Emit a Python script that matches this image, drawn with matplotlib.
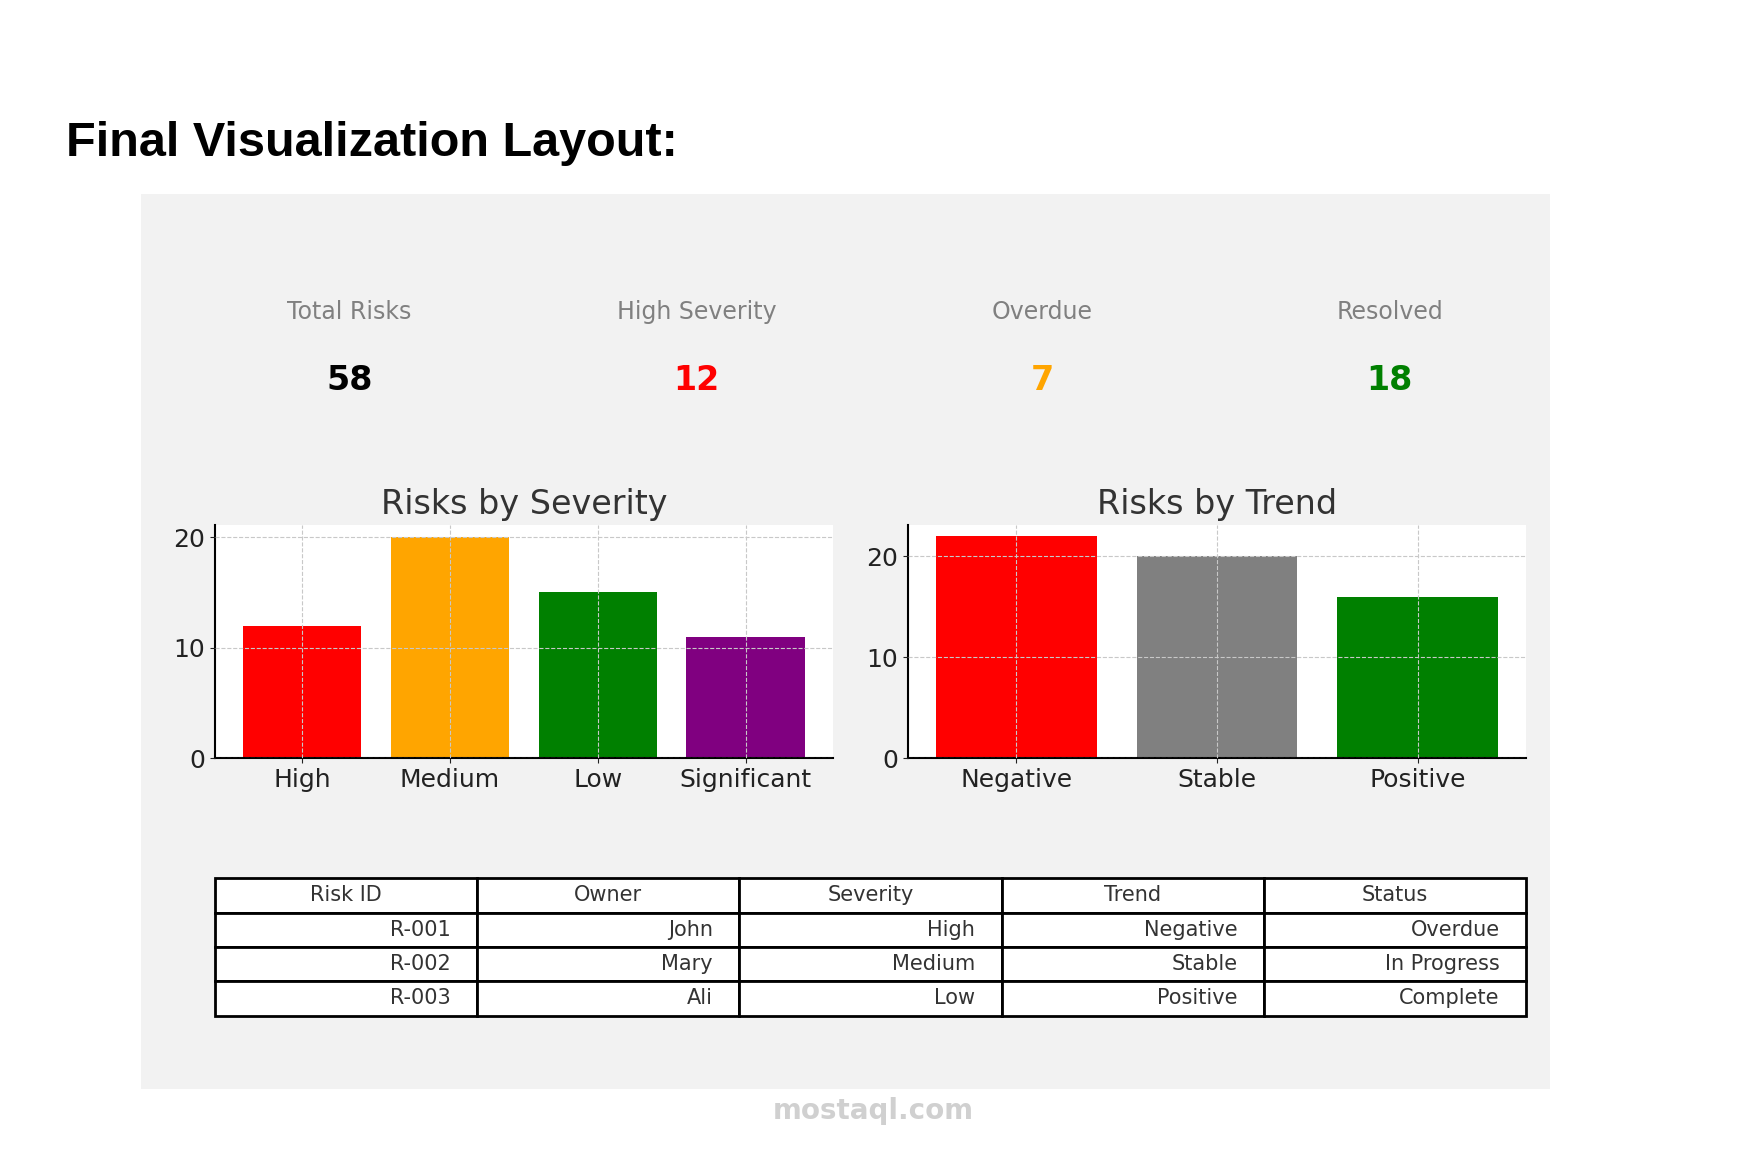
import matplotlib.pyplot as plt
from matplotlib.patches import Rectangle

# KPI cards
kpi_labels = ["Total Risks", "High Severity", "Overdue", "Resolved"]
kpi_values = [58, 12, 7, 18]
kpi_colors = ["black", "red", "orange", "green"]

# severity chart
sev_cats = ["High", "Medium", "Low", "Significant"]
sev_vals = [12, 20, 15, 11]
sev_colors = ["red", "orange", "green", "purple"]

# trend chart
trend_cats = ["Negative", "Stable", "Positive"]
trend_vals = [22, 20, 16]
trend_colors = ["red", "gray", "green"]

# table
col_labels = ["Risk ID", "Owner", "Severity", "Trend", "Status"]
rows = [["R-001", "John", "High", "Negative", "Overdue"],
        ["R-002", "Mary", "Medium", "Stable", "In Progress"],
        ["R-003", "Ali", "Low", "Positive", "Complete"]]

fig = plt.figure(figsize=(17.46, 11.54), dpi=100)
fig.patch.set_facecolor("white")
bg = fig.add_axes([0.081, 0.056, 0.807, 0.776], zorder=-5)
bg.set_facecolor("#f2f2f2")
bg.set_xticks([])
bg.set_yticks([])
for s in bg.spines.values():
    s.set_visible(False)

fig.text(0.038, 0.876, "Final Visualization Layout:", fontsize=35, fontweight="bold",
         family="Liberation Sans", va="center")

xs = [0.200, 0.399, 0.597, 0.796]
for x, lab, v, c in zip(xs, kpi_labels, kpi_values, kpi_colors):
    fig.text(x, 0.730, lab, fontsize=17, color="gray", ha="center", va="center")
    fig.text(x, 0.670, str(v), fontsize=24, color=c, fontweight="bold", ha="center", va="center")

def bar_chart(rect, cats, vals, colors, title, top):
    ax = fig.add_axes(rect)
    ax.bar(cats, vals, color=colors, width=0.8, zorder=2)
    ax.set_ylim(0, top)
    ax.set_yticks([0, 10, 20])
    ax.grid(True, linestyle="--", color="#c8c8c8", zorder=3)
    ax.set_axisbelow(False)
    for s in ["top", "right"]:
        ax.spines[s].set_visible(False)
    ax.spines["left"].set_linewidth(1.5)
    ax.spines["bottom"].set_linewidth(1.5)
    ax.tick_params(labelsize=18, colors="#222222")
    ax.set_title(title, fontsize=24, color="#333333", pad=8)
    return ax

bar_chart([0.123, 0.343, 0.354, 0.202], sev_cats, sev_vals, sev_colors, "Risks by Severity", 21.1)
bar_chart([0.520, 0.343, 0.354, 0.202], trend_cats, trend_vals, trend_colors, "Risks by Trend", 23.1)

tax = fig.add_axes([0.123, 0.120, 0.751, 0.119])
tax.axis("off")
tbl = tax.table(cellText=rows, colLabels=col_labels, loc="center", bbox=[0, 0, 1, 1],
                cellLoc="right", colLoc="center")
tbl.auto_set_font_size(False)
tbl.set_fontsize(15)
for (r, c), cell in tbl.get_celld().items():
    cell.set_linewidth(2)
    cell.set_facecolor("white")
    cell.get_text().set_color("#333333")

fig.text(0.5, 0.037, "mostaql.com", fontsize=20, color="#d0d0d0", fontweight="bold",
         ha="center", va="center")

fig.savefig("out.png", dpi=100)
